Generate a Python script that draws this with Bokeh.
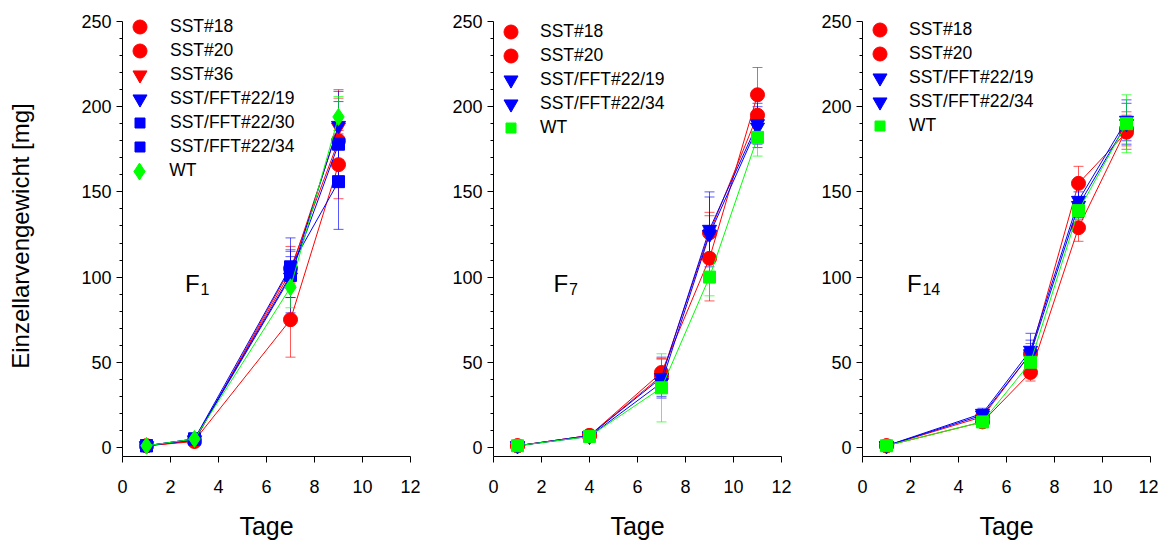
from bokeh.plotting import figure
from bokeh.layouts import row
from bokeh.models import (Range1d, FixedTicker, Legend, LegendItem, Label,
                          Whisker, TeeHead, ColumnDataSource)
from bokeh.embed import file_html
from bokeh.resources import INLINE

FONT = "Liberation Sans"
RED, BLUE, GREEN = "#FF0000", "#0000FF", "#00FF00"

# ---------------- data ----------------
# Panel F1
f1_days = [1, 3, 7, 9]
f1_names = ["SST#18", "SST#20", "SST#36", "SST/FFT#22/19",
            "SST/FFT#22/30", "SST/FFT#22/34", "WT"]
f1_colors = [RED, RED, RED, BLUE, BLUE, BLUE, GREEN]
f1_markers = ["circle", "circle", "inverted_triangle", "inverted_triangle",
              "square", "square", "diamond"]
f1_means = [
    [1.0, 3.5, 105, 180],
    [1.0, 4.0, 75, 166],
    [1.0, 4.0, 103, 188],
    [1.0, 4.5, 100, 189],
    [1.0, 5.0, 106, 156],
    [1.0, 5.0, 101, 178],
    [1.0, 5.0, 94, 194],
]
f1_sd = [
    [0.5, 0.5, 10, 25],
    [0.5, 0.5, 22, 20],
    [0.5, 0.5, 15, 22],
    [0.5, 0.5, 12, 20],
    [0.5, 0.5, 10, 28],
    [0.5, 0.5, 22, 25],
    [0.5, 0.5, 12, 12],
]

# Panel F7
f7_days = [1, 4, 7, 9, 11]
f7_names = ["SST#18", "SST#20", "SST/FFT#22/19", "SST/FFT#22/34", "WT"]
f7_colors = [RED, RED, BLUE, BLUE, GREEN]
f7_markers = ["circle", "circle", "inverted_triangle", "inverted_triangle", "square"]
f7_means = [
    [1.0, 7.0, 44, 111, 207],
    [1.0, 7.0, 42, 126, 195],
    [1.0, 7.0, 41, 128, 190],
    [1.0, 6.5, 38, 125, 188],
    [1.0, 6.5, 35, 100, 182],
]
f7_sd = [
    [0.5, 1.0, 8, 25, 16],
    [0.5, 1.0, 10, 12, 10],
    [0.5, 1.0, 12, 22, 12],
    [0.5, 1.0, 8, 22, 12],
    [0.5, 1.0, 20, 11, 11],
]

# Panel F14
f14_days = [1, 5, 7, 9, 11]
f14_names = ["SST#18", "SST#20", "SST/FFT#22/19", "SST/FFT#22/34", "WT"]
f14_colors = [RED, RED, BLUE, BLUE, GREEN]
f14_markers = ["circle", "circle", "inverted_triangle", "inverted_triangle", "square"]
f14_means = [
    [1.0, 18, 55, 155, 185],
    [1.0, 15, 44, 129, 187],
    [1.0, 20, 57, 145, 192],
    [1.0, 19, 55, 142, 190],
    [1.0, 15, 50, 139, 190],
]
f14_sd = [
    [0.5, 2, 6, 10, 10],
    [0.5, 2, 5, 8, 10],
    [0.5, 3, 10, 10, 12],
    [0.5, 3, 8, 8, 12],
    [0.5, 2, 6, 8, 17],
]

y_ticks = [0, 50, 100, 150, 200, 250]
x_ticks = [0, 2, 4, 6, 8, 10, 12]

MSIZE = {"circle": 14, "inverted_triangle": 14, "square": 12, "diamond": 17}
LSIZE = {"circle": 14, "inverted_triangle": 14, "square": 10, "diamond": 17}

FRAME_W = 288
TOP_EXTRA = 6                  # frame extends a few px above the 250 tick
FRAME_H = 435 + TOP_EXTRA
Y_LO, Y_TOP = -5.3, 250
Y_HI = Y_TOP + TOP_EXTRA * (Y_TOP - Y_LO) / 435.0


def make_panel(days, names, colors, markers, means, sds, left, right,
               ylabel, first_row, label_x, sub, flab_x, flab_y):
    p = figure(output_backend="svg", toolbar_location=None,
               frame_width=FRAME_W, frame_height=FRAME_H,
               min_border_left=left, min_border_right=right,
               min_border_top=21 - TOP_EXTRA, min_border_bottom=86,
               x_range=Range1d(0, 12), y_range=Range1d(Y_LO, Y_HI))
    p.outline_line_color = None
    p.grid.visible = False
    p.background_fill_color = "white"
    p.border_fill_color = "white"

    for ax in (p.xaxis[0], p.yaxis[0]):
        ax.axis_line_color = "black"
        ax.axis_line_width = 1
        ax.major_tick_in = 0
        ax.major_tick_out = 6
        ax.minor_tick_in = 0
        ax.minor_tick_out = 3
        ax.major_tick_line_color = "black"
        ax.minor_tick_line_color = "black"
        ax.major_label_text_font = FONT
        ax.major_label_text_font_size = "18px"
        ax.major_label_text_color = "black"
        ax.axis_label_text_font = FONT
        ax.axis_label_text_font_style = "normal"
        ax.axis_label_text_color = "black"

    p.xaxis.ticker = FixedTicker(ticks=x_ticks)
    p.xaxis.minor_tick_line_color = None
    p.xaxis.major_label_standoff = 17
    p.xaxis.axis_label = "Tage"
    p.xaxis.axis_label_text_font_size = "25px"
    p.xaxis.axis_label_standoff = 16

    minor = [v for v in range(0, 251, 10) if v % 50 != 0]
    p.yaxis.ticker = FixedTicker(ticks=y_ticks, minor_ticks=minor)
    p.yaxis.bounds = (Y_LO, Y_TOP)
    p.yaxis.major_label_standoff = 5
    if ylabel:
        p.yaxis.axis_label = ylabel
        p.yaxis.axis_label_text_font_size = "24px"
        p.yaxis.axis_label_standoff = 44

    for i, (name, col, mk, m, sd) in enumerate(zip(names, colors, markers, means, sds)):
        src = ColumnDataSource(dict(
            x=days, y=m,
            lo=[a - b for a, b in zip(m, sd)],
            hi=[a + b for a, b in zip(m, sd)]))
        p.line("x", "y", source=src, line_color=col, line_width=1)
        w = Whisker(source=src, base="x", lower="lo", upper="hi",
                    line_color=col, line_alpha=0.65, line_width=1,
                    upper_head=TeeHead(size=10, line_color=col, line_alpha=0.65),
                    lower_head=TeeHead(size=10, line_color=col, line_alpha=0.65))
        p.add_layout(w)
        r = p.scatter("x", "y", source=src, marker=mk, size=MSIZE[mk],
                      fill_color=col, line_color=col)

        # one legend per row so that the marker can be large while rows stay tight
        gs = LSIZE[mk] / 0.4
        center = TOP_EXTRA + first_row + 24 * i      # from frame top, screen px
        lx = 17.5 - gs / 2
        ly = FRAME_H - center - gs / 2
        leg = Legend(items=[LegendItem(label=name, renderers=[r])],
                     location=(lx, ly),
                     border_line_color=None, background_fill_alpha=0,
                     label_text_font=FONT, label_text_font_size="17.5px",
                     label_text_color="black",
                     glyph_width=int(round(gs)), glyph_height=int(round(gs)),
                     label_height=int(round(gs)),
                     spacing=0, padding=0, margin=0,
                     label_standoff=int(round(label_x - lx - gs)))
        p.add_layout(leg, "center")

    p.add_layout(Label(x=flab_x, y=flab_y, text="F", text_font=FONT,
                       text_font_size="24px", text_color="black",
                       text_baseline="alphabetic"))
    p.add_layout(Label(x=flab_x, y=flab_y, x_offset=15.5, y_offset=-6, text=sub,
                       text_font=FONT, text_font_size="16px",
                       text_color="black", text_baseline="alphabetic"))
    return p


p1 = make_panel(f1_days, f1_names, f1_colors, f1_markers, f1_means, f1_sd,
                122, 20, "Einzellarvengewicht [mg]", 5.7, 48, "1", 2.6, 96.5)
p2 = make_panel(f7_days, f7_names, f7_colors, f7_markers, f7_means, f7_sd,
                63, 20, None, 10, 47, "7", 2.5, 96.5)
p3 = make_panel(f14_days, f14_names, f14_colors, f14_markers, f14_means, f14_sd,
                61, 8, None, 8, 47, "14", 1.85, 96.5)

layout = row(p1, p2, p3)
open("out.html", "w").write(file_html(layout, INLINE))
